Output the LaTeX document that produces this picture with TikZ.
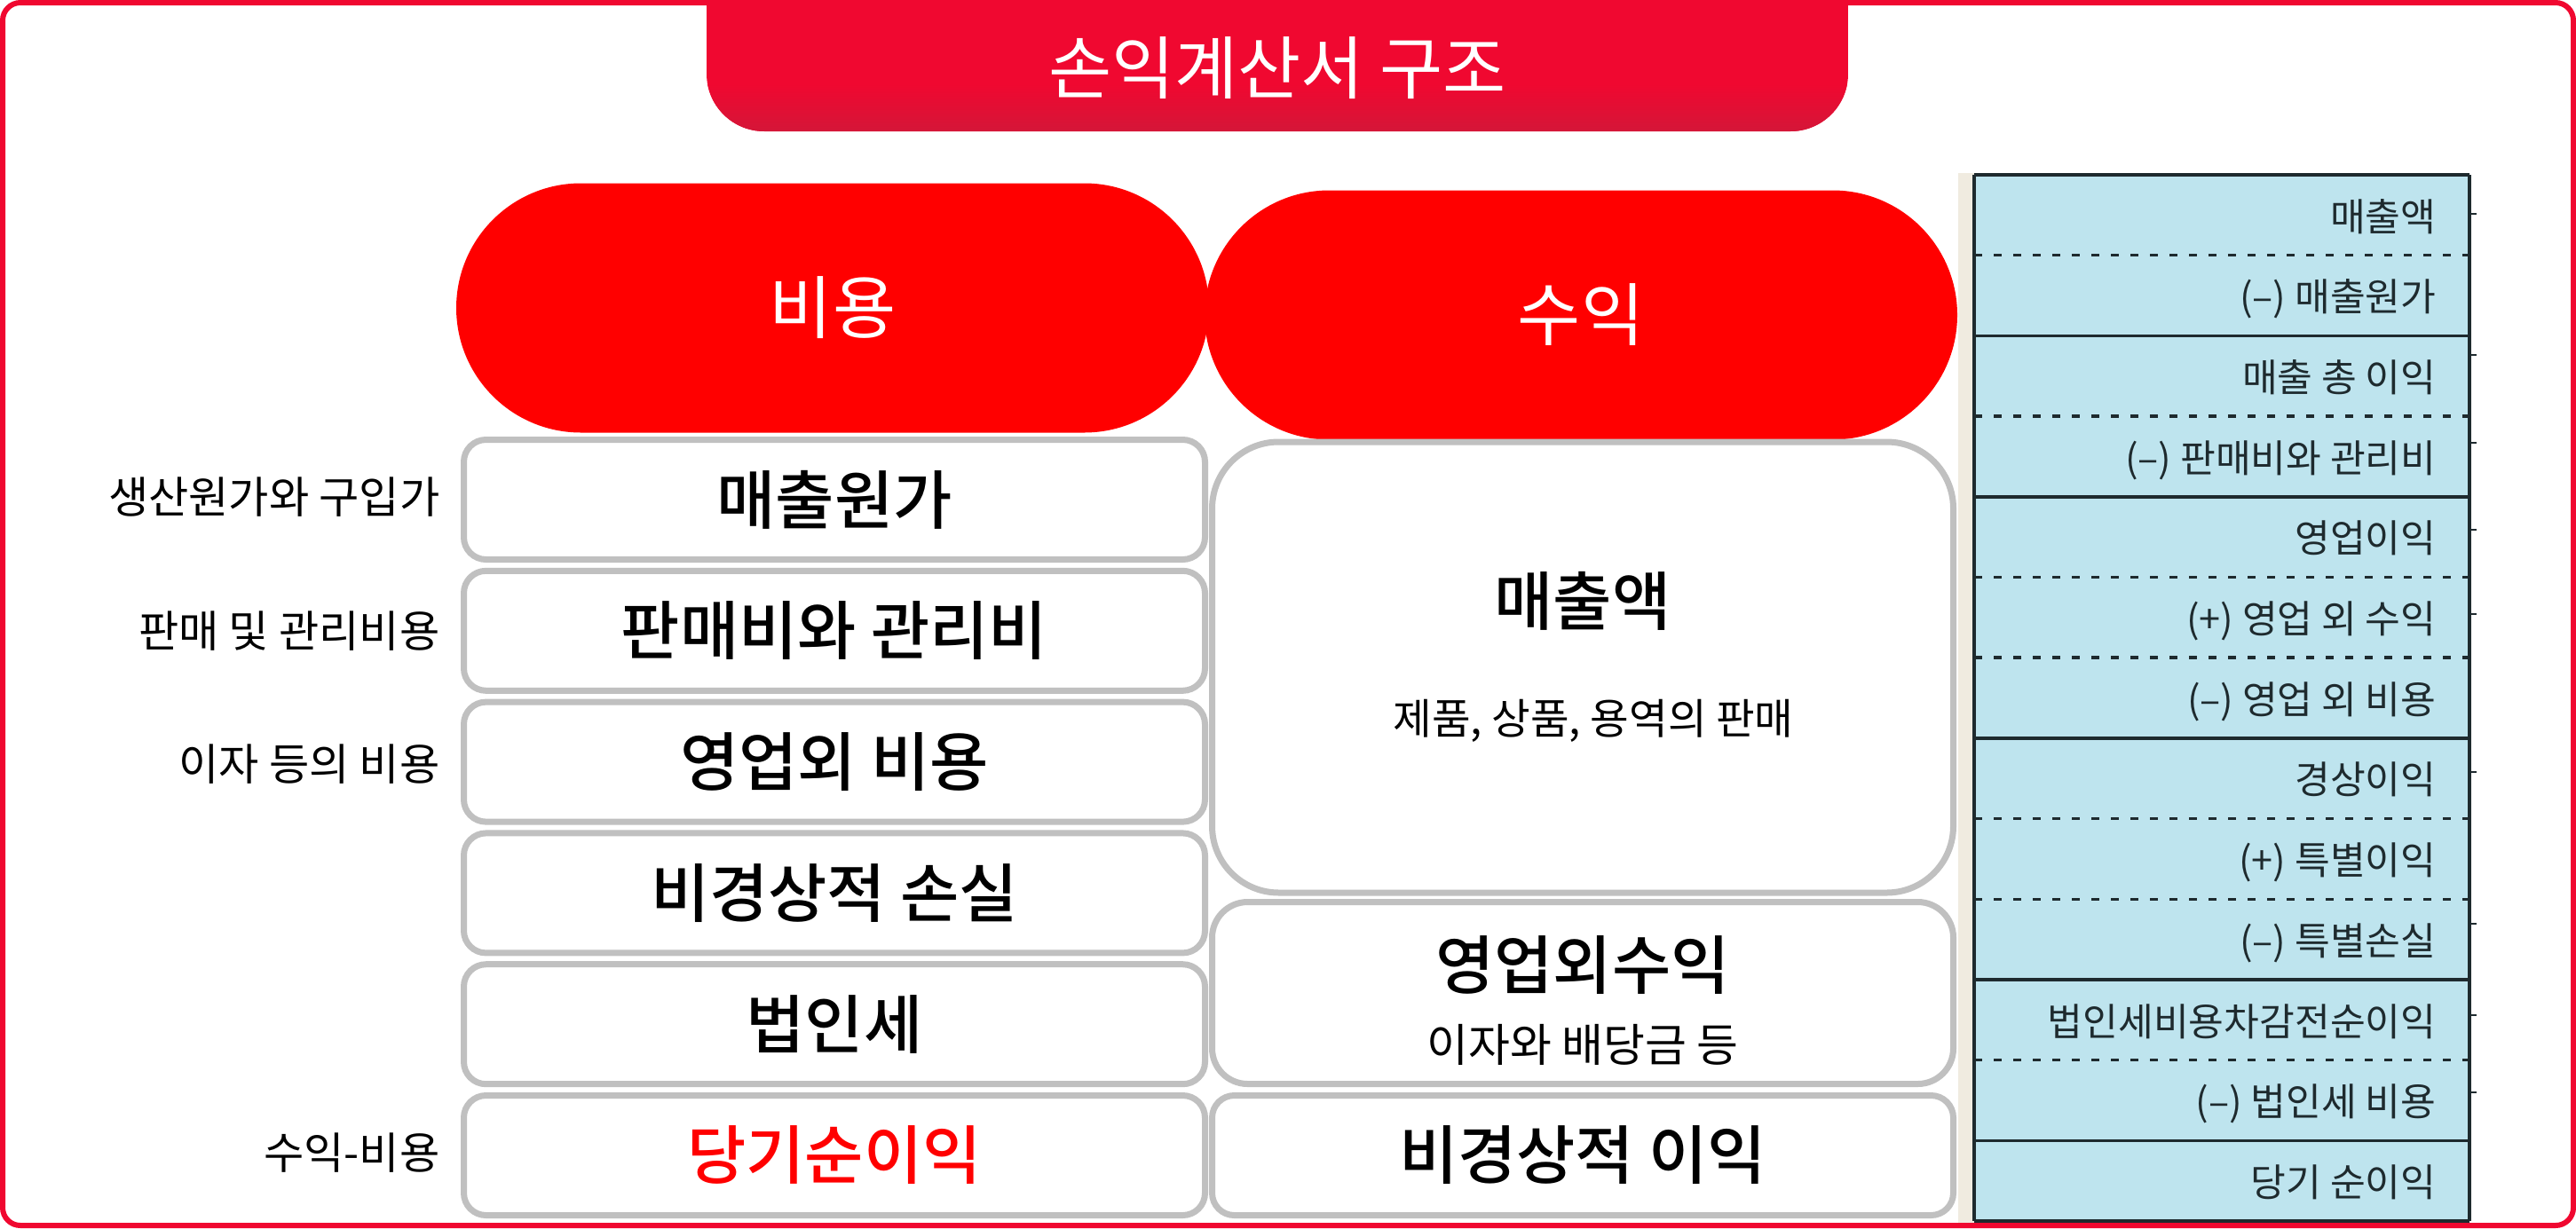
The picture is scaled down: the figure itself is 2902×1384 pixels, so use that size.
\documentclass[tikz,border=0pt]{standalone}
\usepackage{fontspec}
\setmainfont{Noto Sans CJK KR}[BoldFont={Noto Sans CJK KR Medium}]
\usetikzlibrary{shapes.misc}
\definecolor{framered}{RGB}{240,8,48}
\definecolor{titledark}{RGB}{212,22,56}
\definecolor{pillred}{RGB}{255,0,0}
\definecolor{boxgray}{RGB}{192,192,192}
\definecolor{tableblue}{RGB}{190,228,238}
\definecolor{tablebeige}{RGB}{240,235,224}
\definecolor{tableline}{RGB}{30,42,46}
\begin{document}
\begin{tikzpicture}[x=0.1mm,y=-0.1mm,
	pill/.style={rounded rectangle, fill=pillred, text=white, minimum width=84.8mm, minimum height=28.1mm, inner sep=0pt},
	box/.style={draw=boxgray, line width=0.7mm, fill=white, rounded corners=2.5mm, minimum width=83.5mm, minimum height=13.5mm, inner sep=0pt},
	sidelabel/.style={anchor=east, inner sep=0pt},
	rowtext/.style={anchor=base east, inner sep=0pt, text=tableline},
	tabsolid/.style={draw=tableline, line width=0.35mm},
	tabdashed/.style={draw=tableline, line width=0.35mm, dash pattern=on 0.9mm off 1.3mm}]
		\newcommand{\myfonttitle}[1]{
			\fontsize{22}{26}\selectfont{#1}
		}\newcommand{\myfontbox}[1]{
			\fontsize{20.5}{24}\selectfont\bfseries{#1}
		}\newcommand{\myfontlabel}[1]{
			\fontsize{14}{17}\selectfont{#1}
		}\newcommand{\myfonttable}[1]{
			\fontsize{12.3}{14}\selectfont{#1}
		}%Page
		\useasboundingbox (0,0) rectangle (2902,1384);
		%Title tab
		\begin{scope}
			\clip (0,0) rectangle (2902,1384);
			\clip [rounded corners=6.5mm] (796,-100) rectangle (2082,148);
			\fill [framered] (796,-100) rectangle (2082,148);
			\shade [top color=framered, bottom color=titledark] (796,95) rectangle (2082,148);
		\end{scope}
		\node [text=white] (title) at (1439,77) {\myfonttitle{손익계산서 구조}};
		%Heads of the two columns
		\node [pill] (cost) at (938,347) {\myfonttitle{비용}};
		\node [pill] (revenue) at (1781,355) {\myfonttitle{수익}};
		%Left column: expenses
		\foreach \t [count=\i from 0] in {{매출원가},{판매비와 관리비},{영업외 비용},{비경상적 손실},{법인세}} {
			\node [box] (cost\i) at (940,563+147.8*\i) {\myfontbox{\t}};
		}
		\node [box, text=pillred] (cost5) at (940,1302) {\myfontbox{당기순이익}};
		%Labels left of the expenses
		\node [sidelabel] (label0) at (496,560) {\myfontlabel{생산원가와 구입가}};
		\node [sidelabel] (label1) at (496,711) {\myfontlabel{판매 및 관리비용}};
		\node [sidelabel] (label2) at (496,861) {\myfontlabel{이자 등의 비용}};
		\node [sidelabel] (label5) at (496,1299) {\myfontlabel{수익-비용}};
		%Right column: revenues
		\node [box, rounded corners=7.5mm, minimum height=50.8mm] (rev0) at (1783,752) {};
		\node [] (rev0text) at (1783,677) {\myfontbox{매출액}};
		\node [] (rev0sub) at (1795,812) {\fontsize{13.5}{16}\selectfont 제품, 상품, 용역의 판매};
		\node [box, rounded corners=4mm, minimum height=20.5mm] (rev1) at (1783,1119) {};
		\node [] (rev1text) at (1783,1088) {\myfontbox{영업외수익}};
		\node [] (rev1sub) at (1783,1177) {\fontsize{14.5}{17}\selectfont 이자와 배당금 등};
		\node [box] (rev2) at (1783,1302) {\myfontbox{비경상적 이익}};
		%Statement table on the right
		\fill [tablebeige] (2206,195) rectangle (2224,1379);
		\fill [tableblue] (2224,197) rectangle (2782,1376);
		\foreach \k in {1,3,5,6,8,9,11} {
			\draw [tabdashed] (2224,197+90.7*\k) -- (2782,197+90.7*\k);
		}
		\foreach \k in {0,2,4,7,10,12,13} {
			\draw [tabsolid] (2224,197+90.7*\k) -- (2782,197+90.7*\k);
		}
		\draw [tabsolid] (2224,197) -- (2224,1376);
		\draw [tabsolid] (2782,197) -- (2782,1376);
		%Small ticks at the right side
		\foreach \y in {241,400,499,597,692,870,1041,1144,1231} {
			\draw [tableline, line width=0.25mm] (2782,\y) -- (2790,\y);
		}
		%Row texts
		\foreach \t [count=\i from 0] in {{매출액},{(–) 매출원가},{매출 총 이익},{(–) 판매비와 관리비},{영업이익},{(+) 영업 외 수익},{(–) 영업 외 비용},{경상이익},{(+) 특별이익},{(–) 특별손실},{법인세비용차감전순이익},{(–) 법인세 비용},{당기 순이익}} {
			\node [rowtext] (row\i) at (2745,197+90.7*\i+63) {\myfonttable{\t}};
		}
		%Outer frame
		\draw [framered, line width=0.6mm, rounded corners=2mm] (3,3) rectangle (2899,1381);
\end{tikzpicture}
\end{document}
